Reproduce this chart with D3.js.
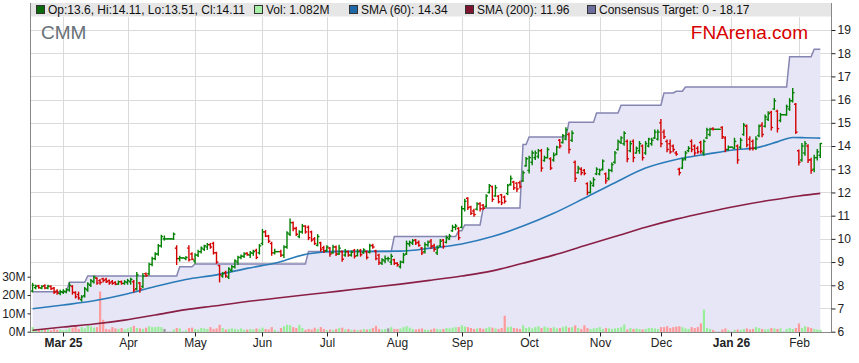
<!DOCTYPE html>
<html lang="en">
<head>
<meta charset="UTF-8">
<title>CMM - FNArena chart</title>
<script src="https://cdn.jsdelivr.net/npm/d3@7"></script>
<style>
  body { margin: 0; background: #fff; }
  svg text { font-family: Arial, "Liberation Sans", sans-serif; }
</style>
</head>
<body>
<svg id="chart" width="859" height="363"></svg>
<script>
// ---- data ----
const startDate = "2025-02-17";   // first bar, one bar per weekday (holidays = flat bars)

// [open, high, low, close]
const ohlc = [
  [7.75,8.08,7.72,8.0],[7.9,8.0,7.85,7.95],[7.98,8.0,7.88,7.9],[7.88,7.98,7.85,7.95],[7.98,8.02,7.85,7.88],
  [7.88,8.0,7.85,7.96],[7.95,7.98,7.82,7.85],[7.88,7.9,7.65,7.7],[7.75,7.8,7.62,7.68],[7.65,7.78,7.6,7.72],
  // 10
  [7.7,7.8,7.65,7.75],[7.72,7.85,7.68,7.8],[7.8,8.1,7.75,8.0],[7.95,7.98,7.62,7.7],[7.68,7.72,7.46,7.5],
  [7.6,7.7,7.4,7.45],[7.38,7.55,7.32,7.5],[7.55,7.9,7.5,7.85],[7.8,8.1,7.75,8.05],[8.0,8.25,7.95,8.2],
  // 20
  [8.15,8.4,8.1,8.35],[8.3,8.32,8.05,8.1],[8.2,8.25,8.05,8.12],[8.28,8.3,8.15,8.2],[8.25,8.3,8.12,8.15],
  [8.2,8.22,8.05,8.1],[8.15,8.2,8.05,8.08],[8.12,8.15,8.03,8.05],[8.05,8.18,8.04,8.15],[8.15,8.18,8.05,8.08],
  // 30
  [8.08,8.2,8.05,8.15],[8.12,8.25,8.05,8.2],[8.15,8.3,8.05,8.25],[8.15,8.2,7.72,7.8],[7.85,8.55,7.8,8.45],
  [8.1,8.12,7.7,7.85],[7.95,8.5,7.9,8.4],[8.5,8.52,8.38,8.42],[8.5,8.95,8.45,8.9],[8.9,9.2,8.85,9.15],
  // 40
  [9.15,9.4,9.1,9.35],[9.35,9.75,9.3,9.7],[9.7,10.15,9.65,10.1],[10.0,10.12,9.95,10.0],[10.0,10.0,10.0,10.0],
  [10.0,10.0,10.0,10.0],[10.0,10.25,9.98,10.2],[9.6,9.7,8.9,9.15],[9.15,9.25,9.05,9.18],[9.18,9.18,9.18,9.18],
  // 50
  [9.15,9.22,9.1,9.2],[9.6,9.7,9.05,9.1],[9.35,9.4,9.1,9.12],[9.05,9.35,8.95,9.3],[9.3,9.5,9.25,9.45],
  [9.45,9.65,9.4,9.6],[9.55,9.72,9.5,9.7],[9.65,9.8,9.55,9.75],[9.75,9.8,9.6,9.65],[9.8,9.85,9.35,9.4],
  // 60
  [9.4,9.42,8.95,9.0],[8.85,8.85,8.15,8.45],[8.4,8.55,8.35,8.5],[8.55,8.6,8.35,8.4],[8.35,8.75,8.3,8.7],
  [8.65,8.85,8.6,8.8],[8.8,9.1,8.75,9.05],[9.0,9.25,8.9,9.2],[9.2,9.3,9.15,9.25],[9.25,9.4,9.2,9.35],
  // 70
  [9.38,9.4,9.3,9.32],[9.3,9.45,9.2,9.4],[9.38,9.5,9.3,9.45],[9.5,9.55,9.15,9.2],[9.4,9.75,9.35,9.7],
  [9.8,10.4,9.75,10.3],[10.3,10.35,10.1,10.12],[10.12,10.15,9.85,9.9],[9.8,9.85,9.3,9.4],[9.4,9.55,9.35,9.45],
  // 80
  [9.45,9.45,9.45,9.45],[9.45,9.5,9.25,9.3],[9.3,9.7,9.2,9.65],[9.65,10.3,9.6,10.25],[10.2,10.85,10.15,10.7],
  [10.7,10.72,10.35,10.45],[10.45,10.5,10.15,10.2],[10.1,10.35,10.05,10.3],[10.3,10.62,10.25,10.55],[10.55,10.56,10.25,10.3],
  // 90
  [10.5,10.55,9.97,10.05],[10.3,10.33,9.9,9.95],[10.0,10.05,9.76,9.8],[9.72,10.18,9.7,10.1],[9.83,9.85,9.47,9.55],
  [9.62,9.68,9.42,9.48],[9.5,9.7,9.47,9.65],[9.6,9.62,9.26,9.35],[9.4,9.72,9.38,9.65],[9.65,9.69,9.29,9.35],
  // 100
  [9.35,9.72,9.33,9.6],[9.45,9.47,9.04,9.12],[9.3,9.54,9.26,9.45],[9.45,9.47,9.26,9.3],[9.3,9.47,9.26,9.42],
  [9.5,9.54,9.18,9.25],[9.28,9.54,9.27,9.45],[9.5,9.54,9.26,9.32],[9.4,9.57,9.38,9.52],[9.45,9.48,9.14,9.2],
  // 110
  [9.42,9.76,9.4,9.7],[9.72,9.76,9.6,9.65],[9.48,9.5,9.1,9.15],[9.3,9.33,8.9,8.98],[8.95,9.14,8.9,9.1],
  [9.05,9.26,8.97,9.15],[9.15,9.2,9.05,9.15],[9.0,9.33,8.9,9.25],[9.1,9.12,8.9,8.95],[8.95,8.97,8.83,8.88],
  // 120
  [8.8,9.04,8.75,9.0],[9.0,9.37,8.97,9.3],[9.35,9.9,9.33,9.8],[9.78,9.9,9.69,9.85],[9.82,9.97,9.76,9.92],
  [9.95,9.97,9.76,9.82],[9.85,9.9,9.69,9.72],[9.6,9.62,9.33,9.4],[9.45,9.83,9.4,9.75],[9.75,9.9,9.69,9.85],
  // 130
  [9.9,9.97,9.6,9.68],[9.7,9.76,9.47,9.55],[9.4,9.69,9.33,9.62],[9.7,9.97,9.68,9.9],[9.95,9.97,9.6,9.68],
  [9.85,10.12,9.83,10.05],[10.0,10.19,9.97,10.12],[10.35,10.58,10.33,10.5],[10.5,10.62,10.4,10.55],[10.45,10.48,9.97,10.05],
  // 140
  [10.5,11.4,10.48,11.3],[11.3,11.7,11.2,11.62],[11.75,11.77,11.27,11.35],[11.38,11.4,11.05,11.1],[11.2,11.27,10.98,11.05],
  [11.28,11.55,11.25,11.5],[11.52,11.55,11.2,11.3],[11.45,11.48,11.27,11.32],[11.4,11.9,11.38,11.85],[12.0,12.34,11.98,12.3],
  // 150
  [12.25,12.27,11.62,11.7],[11.85,12.3,11.84,12.2],[11.84,11.86,11.55,11.6],[11.9,11.91,11.48,11.55],[11.8,11.84,11.55,11.62],
  [11.95,12.34,11.91,12.3],[12.35,12.7,12.32,12.6],[12.45,12.48,12.13,12.2],[12.4,12.41,12.05,12.15],[12.42,12.48,12.2,12.25],
  // 160
  [12.5,12.92,12.48,12.85],[13.15,13.5,13.13,13.45],[12.95,13.56,12.84,13.5],[13.3,13.78,13.2,13.7],[13.5,13.78,13.42,13.7],
  [13.55,13.85,13.49,13.8],[13.8,13.85,12.92,13.05],[13.38,13.56,13.35,13.5],[13.5,13.92,13.49,13.85],[13.45,13.49,12.99,13.05],
  // 170
  [13.4,13.7,13.35,13.6],[13.65,13.99,13.63,13.95],[14.25,14.28,13.92,14.0],[14.15,14.49,14.13,14.45],[14.3,14.78,14.28,14.7],
  [14.5,14.56,13.7,13.85],[14.25,14.64,14.2,14.55],[13.3,13.35,12.48,12.6],[12.85,13.13,12.84,13.05],[13.0,13.06,12.77,12.85],
  // 180
  [12.95,12.99,12.77,12.82],[12.38,12.41,11.91,12.0],[12.0,12.48,11.98,12.4],[12.3,12.63,12.27,12.55],[12.8,13.06,12.77,13.0],
  [12.8,13.0,12.76,12.95],[13.0,13.4,12.97,13.35],[12.8,12.83,12.4,12.5],[12.6,13.0,12.55,12.95],[12.95,13.26,12.9,13.2],
  // 190
  [13.3,13.76,13.26,13.7],[13.85,14.26,13.83,14.2],[14.15,14.4,14.11,14.35],[14.1,14.61,14.04,14.55],[14.2,14.26,13.33,13.45],
  [13.8,14.2,13.76,14.1],[14.2,14.26,13.33,13.5],[13.7,13.95,13.7,13.9],[13.8,14.19,13.69,14.1],[14.0,14.04,13.4,13.5],
  // 200
  [13.7,14.19,13.65,14.1],[14.0,14.33,13.97,14.3],[14.1,14.33,14.04,14.25],[14.35,14.69,14.33,14.6],[14.3,14.69,14.26,14.6],
  [15.0,15.14,13.97,14.1],[14.6,14.69,14.33,14.4],[14.2,14.26,13.76,13.85],[14.1,14.26,13.69,13.75],[14.0,14.04,13.76,13.85],
  // 210
  [13.7,13.76,13.61,13.65],[13.0,13.04,12.76,12.85],[13.05,13.47,13.04,13.4],[13.45,13.76,13.4,13.7],[13.8,13.97,13.76,13.9],
  [14.2,14.26,13.76,13.85],[14.0,14.04,13.61,13.7],[13.9,13.97,13.69,13.75],[14.15,14.2,13.69,13.78],[13.7,14.26,13.61,14.2],
  // 220
  [14.35,14.76,14.33,14.7],[14.5,14.76,14.45,14.72],[14.75,14.78,14.7,14.72],[14.72,14.72,14.72,14.72],[14.72,14.72,14.72,14.72],
  [14.8,14.83,14.33,14.4],[14.35,14.4,13.76,13.85],[13.85,14.0,13.83,13.95],[13.95,13.95,13.95,13.95],[13.9,14.33,13.9,14.2],
  // 230
  [14.0,14.04,13.26,13.4],[13.95,14.33,13.9,14.25],[14.5,14.97,14.47,14.9],[14.85,14.9,13.97,14.05],[14.3,14.4,13.83,13.9],
  [14.2,14.26,13.83,13.9],[13.9,14.4,13.85,14.3],[14.45,14.9,14.4,14.85],[14.9,15.0,14.4,14.5],[14.85,15.33,14.83,15.25],
  // 240
  [15.15,15.47,15.11,15.4],[15.45,15.5,14.7,14.8],[15.6,16.04,15.58,15.95],[15.5,15.54,14.61,14.75],[15.1,15.4,15.05,15.35],
  [15.35,15.35,15.35,15.35],[15.35,15.76,15.33,15.7],[15.6,16.04,15.54,15.95],[15.95,16.47,15.9,16.3],[15.8,15.83,14.54,14.6],
  // 250
  [13.8,13.83,13.19,13.3],[13.4,14.1,13.35,14.0],[13.7,14.19,13.61,14.1],[14.0,14.05,13.3,13.4],[13.4,13.47,12.83,12.95],
  [13.0,13.6,12.9,13.5],[13.5,13.85,13.4,13.75],[13.6,14.11,13.51,14.11]
];

// volume, millions of shares
const volume = [
  2.5,1.5,1.2,1.0,1.8,1.2,0.8,1.5,1.0,1.2,
  0.8,1.0,1.8,2.2,3.0,1.5,2.5,1.8,3.5,2.8,
  2.2,2.5,21.9,6.5,1.5,1.2,2.5,1.8,1.5,2.0,
  1.2,1.8,2.5,3.2,2.0,1.8,1.5,2.2,3.0,2.5,
  2.5,2.8,2.5,1.5,0,0,1.2,2.0,1.8,0,
  0.8,2.0,2.2,1.5,1.2,2.0,1.8,1.5,2.5,1.5,
  1.8,3.8,2.0,1.2,1.5,1.8,1.5,1.2,1.8,1.0,
  1.2,1.5,1.2,1.8,1.5,2.2,1.5,1.2,2.5,1.0,
  0,2.0,3.0,3.8,3.5,2.5,2.0,3.8,2.0,1.0,
  1.5,1.2,2.2,1.5,2.5,1.5,0.8,1.2,1.0,1.5,
  2.0,2.2,1.2,1.5,1.0,1.2,0.8,1.0,1.5,1.2,
  1.5,2.0,3.2,1.5,1.2,1.5,1.8,2.5,1.5,1.5,
  1.8,2.5,3.0,2.2,1.5,1.2,1.5,1.8,1.2,1.0,
  1.2,1.8,1.5,1.2,1.5,2.0,1.8,2.2,2.5,2.5,
  3.5,2.8,2.5,2.0,1.5,1.8,2.0,1.5,2.0,2.5,
  2.2,1.8,1.5,2.0,8.7,2.5,2.8,2.0,1.8,1.5,
  3.5,2.0,2.5,1.8,2.5,3.0,2.0,2.8,2.2,2.0,
  2.5,1.8,2.0,2.5,3.0,2.2,2.5,3.5,2.0,1.5,
  3.5,2.0,1.5,1.8,2.0,2.5,1.5,2.0,1.8,1.5,
  1.8,2.0,2.5,4.0,1.2,2.0,1.5,1.8,1.5,1.2,
  1.5,2.0,2.0,1.8,1.5,2.5,2.5,3.0,2.0,2.5,
  2.8,3.0,2.5,1.8,1.5,2.5,2.0,2.5,4.5,12.0,
  2.0,1.5,1.0,0,0,1.2,1.8,0.8,0,1.0,
  1.2,1.0,1.5,1.8,1.2,1.5,2.5,2.0,1.5,1.2,
  1.5,2.0,1.8,1.5,1.8,0,1.5,2.0,1.5,2.0,
  4.5,2.0,3.0,2.5,2.0,1.5,1.2,1.082
];

// moving averages, sampled at bar indices
const smaIdx60 = [0,10,20,30,40,50,60,70,80,90,100,110,120,130,140,150,160,170,180,190,200,210,220,230,236,243,248,252,257];
const sma60    = [6.99,7.15,7.33,7.6,7.95,8.25,8.45,8.73,8.98,9.36,9.46,9.46,9.47,9.6,9.78,10.1,10.55,11.1,11.75,12.42,13.05,13.42,13.65,13.85,13.92,14.18,14.37,14.36,14.34];
const smaIdx200 = [0,10,20,30,40,50,60,70,80,90,100,110,120,130,140,150,160,170,180,190,200,210,220,230,240,250,257];
const sma200    = [6.06,6.2,6.33,6.5,6.72,6.95,7.12,7.3,7.45,7.6,7.75,7.9,8.05,8.22,8.4,8.62,8.95,9.3,9.7,10.1,10.5,10.85,11.15,11.42,11.65,11.85,11.96];

// consensus target: bar index where it changes, new value
const targetIdx = [0,12,18,48,53,90,118,139,141,147,160,162,175,184,192,206,210,213,247,255];
const targetVal = [7.72,8.13,8.4,8.8,8.92,9.46,10.1,10.35,10.6,11.33,14.07,14.39,15.02,15.42,15.76,16.29,16.36,16.54,17.85,18.17];

const monthLabels = ["Mar 25","Apr","May","Jun","Jul","Aug","Sep","Oct","Nov","Dec","Jan 26","Feb"];
const volTicks = [0, 10, 20, 30];

// ---- chart ----
const svg = d3.select("#chart");
const plotL = 30.5, plotR = 831, plotT = 3, plotB = 332;

const dates = [];
for (let d = new Date(startDate + "T00:00:00"); dates.length < ohlc.length; d.setDate(d.getDate() + 1)) {
  if (d.getDay() !== 0 && d.getDay() !== 6) dates.push(new Date(d));
}
const monthStarts = d3.range(1, dates.length).filter(i => dates[i].getMonth() !== dates[i - 1].getMonth());

const x = d3.scaleLinear().domain([0, ohlc.length - 1]).range([32.6, 820.3]);
const y = d3.scaleLinear().domain([6, 19]).range([331.7, 30]);
const yv = d3.scaleLinear().domain([0, 30]).range([331.7, 276.7]);

const up = '#008000', down = '#d40000';
const barColor = d => d[3] > d[0] ? up : d[3] < d[0] ? down : up;
const volColor = i => ohlc[i][3] > ohlc[i][0] ? '#99ee99' : ohlc[i][3] < ohlc[i][0] ? '#ff9a9a' : '#999';

// target per bar (step value in force that day)
const target = ohlc.map((_, i) => {
  let v = targetVal[0];
  targetIdx.forEach((t, k) => { if (t <= i) v = targetVal[k]; });
  return v;
});

// grid
const grid = svg.append('g');
grid.selectAll('line.h').data(d3.range(7, 20)).join('line')
  .attr('x1', plotL).attr('x2', plotR)
  .attr('y1', d => Math.round(y(d)) + 0.5).attr('y2', d => Math.round(y(d)) + 0.5)
  .attr('stroke', '#dadada');
grid.selectAll('line.v').data(monthStarts).join('line')
  .attr('x1', d => Math.round(x(d)) + 0.5).attr('x2', d => Math.round(x(d)) + 0.5)
  .attr('y1', 17).attr('y2', plotB)
  .attr('stroke', '#dadada');

// consensus target area + line
svg.append('path').datum(target)
  .attr('d', d3.area().x((d, i) => x(i)).y0(plotB).y1(d => y(d)))
  .attr('fill', '#e6e6f6');
svg.append('path').datum(target)
  .attr('d', d3.line().x((d, i) => x(i)).y(d => y(d)))
  .attr('fill', 'none').attr('stroke', '#8585b2').attr('stroke-width', 1.5);

// volume bars
svg.append('g').selectAll('rect').data(volume).join('rect')
  .attr('x', (d, i) => x(i) - 1).attr('width', 2.2)
  .attr('y', d => yv(d)).attr('height', d => plotB - yv(d))
  .attr('fill', (d, i) => volColor(i));

// moving averages
svg.append('path').datum(sma200)
  .attr('d', d3.line().x((d, k) => x(smaIdx200[k])).y(d => y(d)).curve(d3.curveMonotoneX))
  .attr('fill', 'none').attr('stroke', '#8a1f45').attr('stroke-width', 1.6);
svg.append('path').datum(sma60)
  .attr('d', d3.line().x((d, k) => x(smaIdx60[k])).y(d => y(d)).curve(d3.curveMonotoneX))
  .attr('fill', 'none').attr('stroke', '#2b7bb9').attr('stroke-width', 1.6);

// OHLC bars
const bars = svg.append('g').attr('stroke-width', 1.4);
ohlc.forEach((d, i) => {
  const cx = x(i), c = barColor(d);
  bars.append('line').attr('x1', cx).attr('x2', cx).attr('y1', y(d[1]) - 0.6).attr('y2', y(d[2]) + 0.6).attr('stroke', c);
  bars.append('line').attr('x1', cx - 1.8).attr('x2', cx).attr('y1', y(d[0])).attr('y2', y(d[0])).attr('stroke', c);
  bars.append('line').attr('x1', cx).attr('x2', cx + 1.8).attr('y1', y(d[3])).attr('y2', y(d[3])).attr('stroke', c);
});

// legend band
svg.append('rect').attr('x', plotL).attr('y', plotT).attr('width', plotR - plotL).attr('height', 13.5)
  .attr('fill', '#e6e6e6');
const last = ohlc[ohlc.length - 1];
const legend = [
  {x: 36, c: '#0b6b0b', t: `Op:${last[0]}, Hi:${last[1]}, Lo:${last[2]}, Cl:${last[3]}`},
  {x: 254, c: '#a8f0a8', t: `Vol: ${volume[volume.length - 1]}M`},
  {x: 349, c: '#1f68a8', t: `SMA (60): ${sma60[sma60.length - 1]}`},
  {x: 465, c: '#7e1430', t: `SMA (200): ${sma200[sma200.length - 1]}`},
  {x: 587, c: '#6e6e9e', t: `Consensus Target: 0 - ${targetVal[targetVal.length - 1]}`}
];
const lg = svg.append('g').selectAll('g').data(legend).join('g');
lg.append('rect').attr('x', d => d.x + 0.5).attr('y', 5.5).attr('width', 8).attr('height', 8)
  .attr('fill', d => d.c).attr('stroke', '#333').attr('stroke-width', 1);
lg.append('text').attr('x', d => d.x + 12).attr('y', 14).attr('font-size', 12).attr('fill', '#111')
  .text(d => d.t);

// titles
svg.append('text').attr('x', 41).attr('y', 39).attr('font-size', 19).attr('fill', '#687078').text('CMM');
svg.append('text').attr('x', 808).attr('y', 39).attr('text-anchor', 'end').attr('font-size', 19)
  .attr('fill', '#d80000').text('FNArena.com');

// frame
svg.append('line').attr('x1', plotL).attr('x2', plotL).attr('y1', plotT).attr('y2', plotB + 0.5).attr('stroke', '#888');
svg.append('line').attr('x1', plotR + 0.5).attr('x2', plotR + 0.5).attr('y1', plotT).attr('y2', plotB + 0.5).attr('stroke', '#888');
svg.append('line').attr('x1', plotL).attr('x2', plotR + 0.5).attr('y1', plotB + 0.5).attr('y2', plotB + 0.5).attr('stroke', '#888');

// right price axis
const yAxis = svg.append('g').attr('transform', `translate(${plotR + 0.5},0)`)
  .call(d3.axisRight(y).tickValues(d3.range(6, 20)).tickSize(4).tickPadding(2).tickFormat(d3.format('d')));
yAxis.select('.domain').remove();
yAxis.selectAll('text').attr('font-size', 12).attr('fill', '#222').style('font-family', 'Arial, "Liberation Sans", sans-serif');
yAxis.selectAll('line').attr('stroke', '#222');

// left volume axis
const vAxis = svg.append('g').attr('transform', `translate(${plotL},0)`)
  .call(d3.axisLeft(yv).tickValues(volTicks).tickSize(3).tickPadding(2).tickFormat(d => d + 'M'));
vAxis.select('.domain').remove();
vAxis.selectAll('text').attr('font-size', 12).attr('fill', '#222').style('font-family', 'Arial, "Liberation Sans", sans-serif');
vAxis.selectAll('line').attr('stroke', '#222');

// bottom month axis
const mt = svg.append('g').selectAll('g').data(monthStarts).join('g')
  .attr('transform', d => `translate(${Math.round(x(d)) + 0.5},${plotB + 0.5})`);
mt.append('line').attr('y2', 4).attr('stroke', '#222');
mt.append('text').attr('y', 14).attr('text-anchor', 'middle').attr('font-size', 12).attr('fill', '#222')
  .attr('font-weight', (d, k) => monthLabels[k].includes(' ') ? 'bold' : 'normal')
  .text((d, k) => monthLabels[k]);
</script>
</body>
</html>
